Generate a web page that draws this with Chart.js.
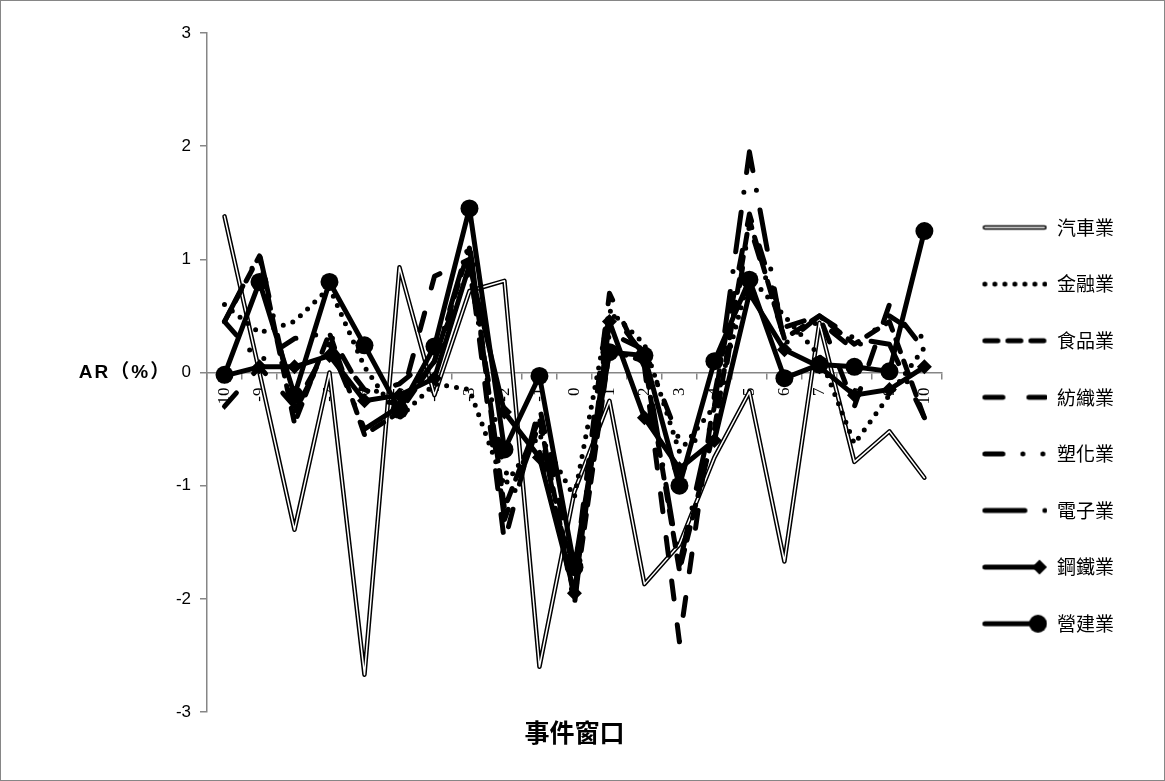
<!DOCTYPE html>
<html>
<head>
<meta charset="utf-8">
<script src="https://cdn.jsdelivr.net/npm/chart.js@4/dist/chart.umd.min.js"></script>
<style>
  html, body { margin: 0; padding: 0; background: #fff; }
  #wrap { width: 1165px; height: 781px; }
</style>
</head>
<body>
<div id="wrap"><canvas id="chart" width="1165" height="781"></canvas></div>
<script>
// Event window (days around the event)
const windows = ['-10','-9','-8','-7','-6','-5','-4','-3','-2','-1','0','1','2','3','4','5','6','7','8','9','10'];
const yTickValues = [-3, -2, -1, 0, 1, 2, 3];

// Abnormal returns (%) by industry
const autoAR         = [1.38, 0.00, -1.39, 0.00, -2.67, 0.93, -0.20, 0.72, 0.81, -2.60, -1.05, -0.25, -1.87, -1.52, -0.75, -0.17, -1.67, 0.44, -0.79, -0.52, -0.93];
const financeAR      = [0.60, 0.35, 0.45, 0.75, 0.05, -0.40, -0.10, -0.15, -1.00, -0.55, -1.10, 0.55, 0.25, -0.70, -0.30, 0.85, 0.50, 0.15, -0.63, -0.20, 0.22];
const foodAR         = [0.45, 1.03, -0.45, 0.35, -0.55, -0.35, 0.10, 1.10, -1.20, -0.40, -2.00, 0.20, 0.10, -1.75, -0.50, 1.35, 0.30, 0.50, 0.25, 0.45, -0.40];
const textileAR      = [-0.30, 0.05, -0.30, 0.25, -0.15, -0.30, 0.85, 1.00, -1.50, -0.30, -1.80, 0.70, 0.05, -2.38, -0.20, 1.40, 0.40, 0.50, -0.30, 0.60, 0.20];
const plasticsAR     = [0.45, 0.10, 0.30, 0.35, -0.20, -0.10, 0.15, 0.90, -0.90, -0.70, -1.80, 0.35, 0.20, -0.60, -0.60, 1.30, 0.30, 0.45, 0.20, 0.50, 0.30];
const electronicsAR  = [0.45, 1.05, -0.35, 0.25, -0.50, -0.30, 0.10, 1.15, -1.30, -0.45, -2.05, 0.55, 0.15, -1.70, -0.30, 1.95, 0.25, 0.50, 0.30, 0.25, -0.40];
const steelAR        = [-0.03, 0.05, 0.05, 0.15, -0.25, -0.20, -0.05, 0.95, -0.35, -0.75, -1.95, 0.45, -0.40, -0.85, -0.60, 0.70, 0.20, 0.05, -0.20, -0.15, 0.05];
const constructionAR = [-0.02, 0.80, -0.20, 0.80, 0.24, -0.33, 0.23, 1.45, -0.68, -0.03, -1.72, 0.18, 0.15, -1.00, 0.10, 0.82, -0.05, 0.07, 0.05, 0.01, 1.25];

const seriesNames = ['汽車業', '金融業', '食品業', '紡織業', '塑化業', '電子業', '鋼鐵業', '營建業'];
const seriesData  = [autoAR, financeAR, foodAR, textileAR, plasticsAR, electronicsAR, steelAR, constructionAR];

// Line styles per series (drawing only)
const LW = 5;
const seriesStyles = [
  { kind: 'double' },
  { dash: [0, 10] },
  { dash: [13, 10] },
  { dash: [18, 26] },
  { dash: [18, 20, 0, 20, 0, 20] },
  { dash: [40, 20, 0, 20] },
  { marker: 'rectRot', radius: 7.5 },
  { marker: 'circle', radius: 9 }
];

const CJK = '"Noto Sans CJK TC", "Noto Sans CJK SC", sans-serif';

// Build datasets: Excel-style stacking, first series at the bottom
const datasets = [];
const nSeries = seriesNames.length;
seriesNames.forEach((name, i) => {
  const st = seriesStyles[i];
  const baseOrder = (nSeries - i) * 2;
  if (st.kind === 'double') {
    datasets.push({
      label: name, data: seriesData[i], borderColor: '#000', borderWidth: 4.5,
      pointRadius: 0, borderJoinStyle: 'round', borderCapStyle: 'round', order: baseOrder + 1, tension: 0
    });
    datasets.push({
      label: name + '_inner', data: seriesData[i], borderColor: '#fff', borderWidth: 1.5,
      pointRadius: 0, borderJoinStyle: 'round', borderCapStyle: 'round', order: baseOrder, tension: 0
    });
  } else {
    datasets.push({
      label: name, data: seriesData[i], borderColor: '#000', borderWidth: LW,
      borderDash: st.dash || [], borderCapStyle: 'round', borderJoinStyle: 'round',
      pointRadius: st.marker ? st.radius : 0, pointStyle: st.marker || 'circle',
      pointBackgroundColor: '#000', pointBorderColor: '#000', pointBorderWidth: 0,
      order: baseOrder, tension: 0
    });
  }
});

// Legend sample images
const SAMPLE_W = 68, SAMPLE_H = 22, SAMPLE_X0 = 3.4;
function makeSample(st) {
  const c = document.createElement('canvas');
  c.width = SAMPLE_W; c.height = SAMPLE_H;
  const g = c.getContext('2d');
  const y = SAMPLE_H / 2;
  g.strokeStyle = '#000'; g.fillStyle = '#000';
  if (st.kind === 'double') {
    g.lineCap = 'round';
    g.lineWidth = 4.5; g.beginPath(); g.moveTo(SAMPLE_X0 + 2, y); g.lineTo(SAMPLE_W - 3, y); g.stroke();
    g.strokeStyle = '#fff'; g.lineWidth = 1.5; g.beginPath(); g.moveTo(SAMPLE_X0 + 2, y); g.lineTo(SAMPLE_W - 3, y); g.stroke();
  } else if (st.marker) {
    g.lineWidth = LW; g.lineCap = 'round';
    g.beginPath(); g.moveTo(SAMPLE_X0 + 2, y); g.lineTo(SAMPLE_W - 10, y); g.stroke();
    const cx = SAMPLE_W - st.radius - 0.5;
    g.beginPath();
    if (st.marker === 'circle') {
      g.arc(cx, y, st.radius, 0, Math.PI * 2);
    } else {
      g.moveTo(cx, y - st.radius); g.lineTo(cx + st.radius, y); g.lineTo(cx, y + st.radius); g.lineTo(cx - st.radius, y); g.closePath();
    }
    g.fill();
  } else {
    g.lineWidth = LW; g.lineCap = 'round';
    g.setLineDash(st.dash);
    g.beginPath(); g.moveTo(SAMPLE_X0 + 2, y); g.lineTo(SAMPLE_W - 2, y); g.stroke();
  }
  return c;
}
const legendSamples = seriesStyles.map(makeSample);

// Frame, background and the horizontal y-axis caption
const decorations = {
  id: 'decorations',
  beforeDraw(chart) {
    const { ctx } = chart;
    ctx.save();
    ctx.fillStyle = '#fff';
    ctx.fillRect(0, 0, chart.width, chart.height);
    ctx.restore();
  },
  afterDraw(chart) {
    const { ctx } = chart;
    const y0 = chart.scales.y.getPixelForValue(0);
    ctx.save();
    ctx.fillStyle = '#000';
    ctx.font = 'bold 19px "Liberation Sans", ' + CJK;
    ctx.textAlign = 'center';
    ctx.textBaseline = 'middle';
    ctx.letterSpacing = '2px';
    ctx.fillText('AR（%）', 125, y0);
    ctx.letterSpacing = '0px';
    ctx.strokeStyle = '#868686';
    ctx.lineWidth = 1;
    ctx.strokeRect(0.5, 0.5, chart.width - 1, chart.height - 1);
    ctx.restore();
  }
};

new Chart(document.getElementById('chart'), {
  type: 'line',
  data: { labels: windows, datasets },
  plugins: [decorations],
  options: {
    responsive: false,
    animation: false,
    devicePixelRatio: 1,
    layout: { padding: { left: 147, right: 41, top: 4, bottom: 0 } },
    scales: {
      x: {
        type: 'category',
        position: { y: 0 },
        offset: true,
        grid: { offset: true, drawOnChartArea: false, drawTicks: true, tickLength: 6, color: '#868686', lineWidth: 1.5 },
        border: { color: '#868686', width: 1.5 },
        ticks: {
          autoSkip: false, minRotation: 90, maxRotation: 90, padding: 9,
          color: '#000', font: { family: '"Liberation Serif", serif', size: 17 }
        }
      },
      y: {
        min: -3, max: 3,
        afterBuildTicks(scale) { scale.ticks = yTickValues.map(v => ({ value: v })); },
        afterFit(scale) { scale.width = 60; },
        grid: { drawOnChartArea: false, drawTicks: true, tickLength: 7, color: '#868686', lineWidth: 1.5 },
        border: { color: '#868686', width: 1.5 },
        ticks: { padding: 9, color: '#000', font: { family: '"Liberation Sans", sans-serif', size: 17 } }
      }
    },
    plugins: {
      tooltip: { enabled: false },
      subtitle: {
        display: true, position: 'top', text: ' ', fullSize: false,
        font: { size: 10 }, padding: { top: 17, bottom: 0 }
      },
      title: {
        display: true, position: 'bottom', text: '事件窗口', fullSize: false,
        color: '#000', font: { family: CJK, size: 25, weight: 'bold' },
        padding: { top: 5, bottom: 34 }
      },
      legend: {
        display: true, position: 'right', align: 'center', fullSize: true,
        title: { display: true, text: ' ', font: { size: 12 }, padding: 25.9 },
        labels: {
          usePointStyle: true, pointStyleWidth: SAMPLE_W, padding: 37.6,
          color: '#000', font: { family: CJK, size: 19 },
          generateLabels() {
            return seriesNames.map((name, i) => ({
              text: name, pointStyle: legendSamples[i], fillStyle: '#000', strokeStyle: '#000',
              lineWidth: 0, hidden: false, fontColor: '#000'
            }));
          }
        }
      }
    }
  }
});
</script>
</body>
</html>
